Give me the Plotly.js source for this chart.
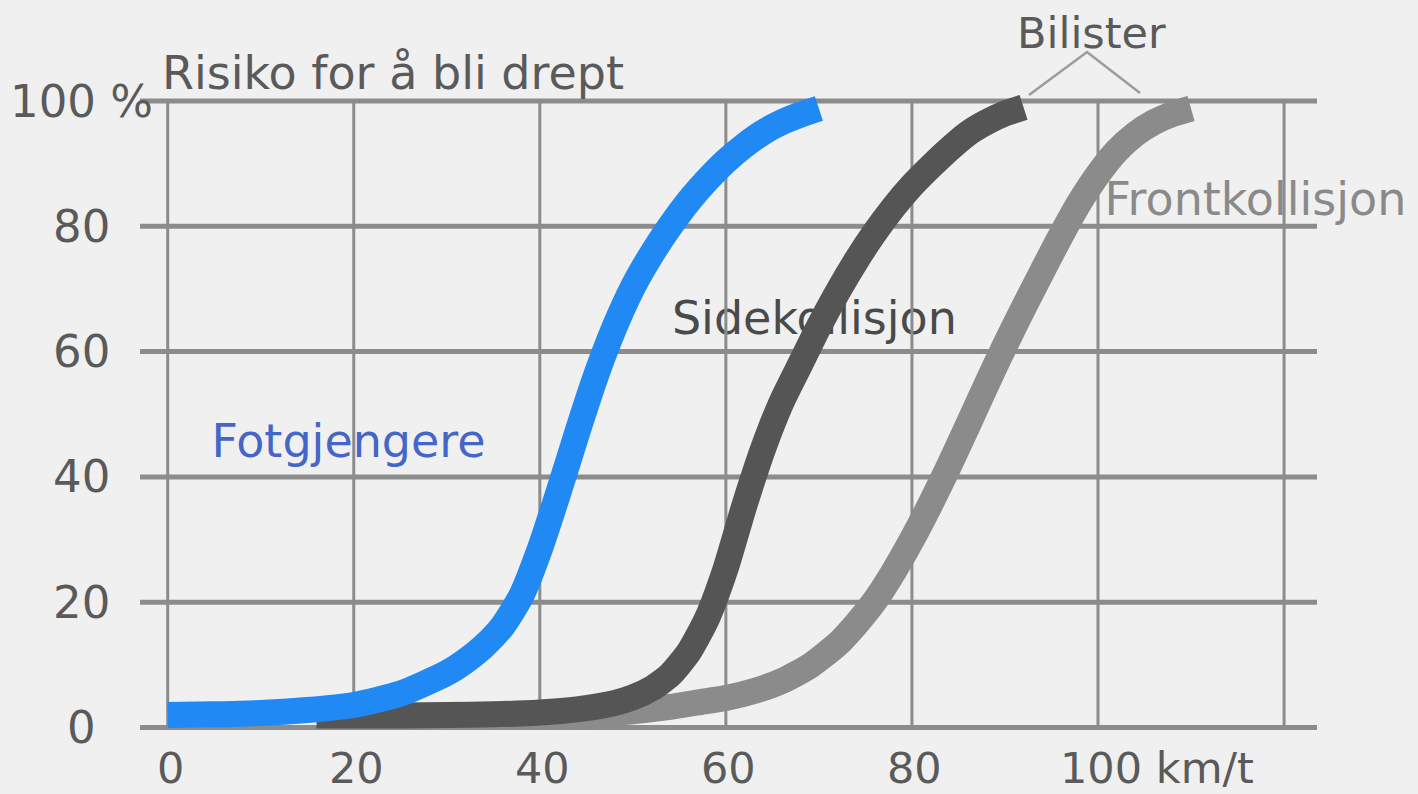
<!DOCTYPE html>
<html>
<head>
<meta charset="utf-8">
<script src="https://cdn.plot.ly/plotly-3.0.1.min.js"></script>
<style>
  html, body { margin: 0; padding: 0; background: #f0f0f0; }
  #chart { width: 1418px; height: 794px; }
</style>
</head>
<body>
<div id="chart"></div>
<script>
// Risiko for å bli drept ved ulike fartsnivåer (km/t)

const speedTicks = [0, 20, 40, 60, 80, 100];
const speedTickText = ['0', '20', '40', '60', '80', '100 km/t'];
const riskTicks = [0, 20, 40, 60, 80, 100];
const riskTickText = ['0', '20', '40', '60', '80', '100 %'];
const gridSpeeds = [0, 20, 40, 60, 80, 100, 120];

// Fotgjengere
const pedSpeed = [0, 5, 10, 15, 20, 25, 30, 32, 34, 36, 38, 40, 42, 44, 46, 48, 50, 52, 54, 56, 58, 60, 62, 64, 66, 68, 70];
const pedRisk  = [2.0, 2.1, 2.3, 2.8, 3.6, 5.4, 8.7, 10.6, 13.0, 16.2, 21.0, 28.5, 37.5, 47.0, 56.0, 63.8, 70.3, 75.5, 80.0, 84.0, 87.4, 90.4, 92.9, 95.0, 96.6, 97.8, 98.8];

// Bilister – sidekollisjon
const sideSpeed = [16, 20, 25, 30, 35, 40, 44, 48, 50, 52, 54, 56, 58, 60, 62, 64, 66, 68, 70, 72, 74, 76, 78, 80, 82, 84, 86, 88, 90, 92];
const sideRisk  = [1.9, 1.9, 1.9, 2.0, 2.1, 2.4, 2.9, 3.9, 4.8, 6.2, 8.4, 12.0, 17.5, 25.5, 35.5, 44.5, 52.0, 58.0, 64.0, 69.5, 74.5, 79.0, 83.0, 86.5, 89.5, 92.3, 94.8, 96.6, 98.0, 99.0];

// Bilister – frontkollisjon
const frontSpeed = [35, 40, 45, 50, 54, 57, 60, 63, 66, 69, 72, 74, 76, 78, 80, 82, 84, 86, 88, 90, 92, 94, 96, 98, 100, 102, 104, 106, 108, 110];
const frontRisk  = [1.8, 1.8, 2.0, 2.6, 3.3, 4.0, 4.7, 5.8, 7.4, 9.8, 13.3, 16.5, 20.2, 24.8, 30.0, 35.7, 41.8, 48.2, 54.7, 61.0, 67.0, 72.8, 78.5, 83.8, 88.3, 92.0, 94.7, 96.6, 97.9, 98.8];

// pixel geometry of the drawing
const W = 1418, H = 794;
const X0 = 167.7, XS = 9.303;   // px at 0 km/t, px per km/t
const Y0 = 727.5, YS = 6.265;   // px at 0 %, px per %
const xRange = [(0 - X0) / XS, (W - X0) / XS];
const yRange = [(Y0 - H) / YS, Y0 / YS];
const px = p => p / W;          // horizontal pixel -> paper
const py = p => 1 - p / H;      // vertical pixel -> paper

const FONT = 'DejaVu Sans, Verdana, sans-serif';
const GRID = '#8c8c8c';
const TICK = '#5a5a5a';

// grid lines: horizontal ones run past the first and last speed lines
const gridX0 = (140 - X0) / XS, gridX1 = (1317 - X0) / XS;
const hx = [], hy = [];
riskTicks.forEach(v => { hx.push(gridX0, gridX1, null); hy.push(v, v, null); });
const vx = [], vy = [];
gridSpeeds.forEach(v => { vx.push(v, v, null); vy.push(0, 100, null); });

const curve = (color) => ({ color: color, width: 26, shape: 'spline', smoothing: 0.6 });

const traces = [
  // series names sit underneath the grid and the curves
  { x: [4.7], y: [45.0], mode: 'text', text: ['Fotgjengere'], textposition: 'middle right',
    textfont: { family: FONT, size: 46, color: '#4466c8' }, hoverinfo: 'skip' },
  { x: [54.2], y: [64.7], mode: 'text', text: ['Sidekollisjon'], textposition: 'middle right',
    textfont: { family: FONT, size: 46, color: '#4a4a4a' }, hoverinfo: 'skip' },
  { x: [100.7], y: [83.6], mode: 'text', text: ['Frontkollisjon'], textposition: 'middle right',
    textfont: { family: FONT, size: 46, color: '#8a8a8a' }, hoverinfo: 'skip' },
  { x: vx, y: vy, mode: 'lines', line: { color: GRID, width: 3 }, hoverinfo: 'skip' },
  { x: hx, y: hy, mode: 'lines', line: { color: GRID, width: 5 }, hoverinfo: 'skip' },
  { x: frontSpeed, y: frontRisk, mode: 'lines', name: 'Frontkollisjon', line: curve('#8b8b8b') },
  { x: sideSpeed, y: sideRisk, mode: 'lines', name: 'Sidekollisjon', line: curve('#555555') },
  { x: pedSpeed, y: pedRisk, mode: 'lines', name: 'Fotgjengere', line: curve('#2089f4') }
];

const annotations = [];
speedTicks.forEach((v, i) => {
  const last = i === speedTicks.length - 1;
  annotations.push({
    x: v, xref: 'x', y: py(768), yref: 'paper',
    text: speedTickText[i], showarrow: false,
    xanchor: last ? 'left' : 'center', xshift: last ? -40 : 3, yanchor: 'middle',
    font: { family: FONT, size: 43, color: TICK }
  });
});
riskTicks.forEach((v, i) => {
  annotations.push({
    x: px(81), xref: 'paper', y: v, yref: 'y',
    text: riskTickText[i], showarrow: false,
    xanchor: 'center', yanchor: 'middle',
    font: { family: FONT, size: 45, color: TICK }
  });
});
annotations.push({
  x: px(160), xref: 'paper', y: py(73), yref: 'paper',
  text: 'Risiko for å bli drept', showarrow: false, xanchor: 'left', yanchor: 'middle',
  font: { family: FONT, size: 46, color: TICK }
});
annotations.push({
  x: px(1091), xref: 'paper', y: py(33), yref: 'paper',
  text: 'Bilister', showarrow: false, xanchor: 'center', yanchor: 'middle',
  font: { family: FONT, size: 43, color: TICK }
});

// leader lines from "Bilister" to the two car curves
const shapes = [
  { type: 'path', xref: 'paper', yref: 'paper',
    path: `M ${px(1029)} ${py(95)} L ${px(1087)} ${py(52)} L ${px(1140)} ${py(93)}`,
    line: { color: '#9c9c9c', width: 2.5 } }
];

const layout = {
  width: W, height: H,
  margin: { l: 0, r: 0, t: 0, b: 0 },
  paper_bgcolor: '#f0f0f0', plot_bgcolor: '#f0f0f0',
  showlegend: false,
  xaxis: { range: xRange, visible: false, fixedrange: true },
  yaxis: { range: yRange, visible: false, fixedrange: true },
  annotations: annotations,
  shapes: shapes
};

Plotly.newPlot('chart', traces, layout, { staticPlot: true });
</script>
</body>
</html>
